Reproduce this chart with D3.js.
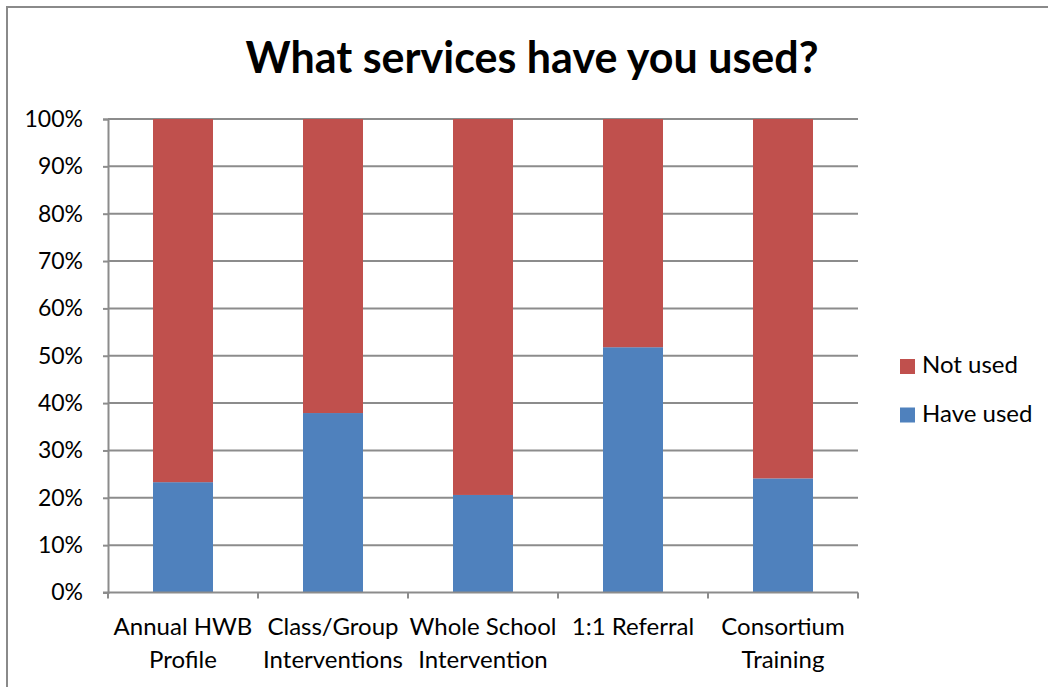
<!DOCTYPE html>
<html>
<head>
<meta charset="utf-8">
<script src="https://cdn.jsdelivr.net/npm/d3@7"></script>
<style>
body { margin: 0; background: #fff; }
svg { display: block; font-family: Lato, "Open Sans", sans-serif; }
</style>
</head>
<body>
<div id="canvas"></div>
<script>
// DATA -----------------------------------------------------
var categories = [
["Annual HWB", "Profile"],
["Class/Group", "Interventions"],
["Whole School", "Intervention"],
["1:1 Referral"],
["Consortium", "Training"]
];
var have_used = [0.233, 0.379, 0.206, 0.518, 0.241];
var not_used = have_used.map((v) => 1 - v);
var y_ticks = [0, 0.1, 0.2, 0.3, 0.4, 0.5, 0.6, 0.7, 0.8, 0.9, 1];
var series_names = ["Not used", "Have used"];

var colors = { "Have used": "#4F81BD", "Not used": "#C0504D" };
var grid_color = "#8c8c8c";

// STRUCTURE ------------------------------------------------
var W = 1048, H = 687;
var plot = { left: 108, right: 858, top: 119, bottom: 592.5 };

var svg = d3.select("#canvas").append("svg")
.attr("width", W)
.attr("height", H);

// chart border (only top and left visible in frame)
svg.append("rect")
.attr("x", 7).attr("y", 7)
.attr("width", 1200).attr("height", 900)
.attr("fill", "#fff")
.attr("stroke", "#8a8a8a")
.attr("stroke-width", 2);

// title
svg.append("text")
.attr("x", 532)
.attr("y", 73)
.attr("text-anchor", "middle")
.style("font-size", "43px")
.style("font-weight", "bold")
.text("What services have you used?");

// scales
var keys = categories.map((c) => c.join(" "));
var xScale = d3.scaleBand()
.domain(keys)
.range([plot.left, plot.right])
.paddingInner(0.6)
.paddingOuter(0.3);

var yScale = d3.scaleLinear()
.domain([0, 1])
.range([plot.bottom, plot.top]);

// grid lines
svg.append("g")
.selectAll("line")
.data(y_ticks.slice(1))
.enter().append("line")
.attr("x1", plot.left).attr("x2", plot.right)
.attr("y1", (d) => yScale(d)).attr("y2", (d) => yScale(d))
.attr("stroke", grid_color)
.attr("stroke-width", 2);

// stacked bars
var rows = keys.map((k, i) => ({ key: k, "Have used": have_used[i], "Not used": not_used[i] }));
var stack = d3.stack().keys(["Have used", "Not used"])(rows);

svg.append("g")
.selectAll("g")
.data(stack)
.enter().append("g")
.attr("fill", (s) => colors[s.key])
.selectAll("rect")
.data((s) => s)
.enter().append("rect")
.attr("x", (d) => xScale(d.data.key))
.attr("y", (d) => yScale(d[1]))
.attr("height", (d) => yScale(d[0]) - yScale(d[1]))
.attr("width", xScale.bandwidth());

// y axis
var yAxis = svg.append("g")
.attr("transform", `translate(${plot.left},0)`)
.call(d3.axisLeft(yScale)
.tickValues(y_ticks)
.tickFormat(d3.format(".0%"))
.tickSize(5)
.tickPadding(20));
yAxis.select(".domain").attr("stroke", grid_color).attr("stroke-width", 2);
yAxis.selectAll(".tick line").attr("stroke", grid_color).attr("stroke-width", 2);
yAxis.selectAll("text")
.attr("fill", "#000")
.style("font-size", "23px")
.style("font-family", "Lato, sans-serif");

// x axis line and ticks at band boundaries
svg.append("line")
.attr("x1", plot.left - 5).attr("x2", plot.right)
.attr("y1", plot.bottom).attr("y2", plot.bottom)
.attr("stroke", grid_color).attr("stroke-width", 2);

var step = xScale.step();
var bounds = d3.range(keys.length + 1).map((i) => plot.left + i * step);
svg.append("g")
.selectAll("line")
.data(bounds)
.enter().append("line")
.attr("x1", (d) => d).attr("x2", (d) => d)
.attr("y1", plot.bottom).attr("y2", plot.bottom + 6)
.attr("stroke", grid_color).attr("stroke-width", 2);

// category labels
var cat_labels = svg.append("g")
.selectAll("text")
.data(categories)
.enter().append("text")
.attr("x", (c) => xScale(c.join(" ")) + xScale.bandwidth() / 2)
.attr("y", 635)
.attr("text-anchor", "middle")
.style("font-size", "24px");
cat_labels.selectAll("tspan")
.data((c) => c)
.enter().append("tspan")
.attr("x", function () { return d3.select(this.parentNode).attr("x"); })
.attr("dy", (d, i) => i === 0 ? 0 : 33)
.text((d) => d);

// legend
var legend = svg.append("g")
.selectAll("g")
.data(series_names)
.enter().append("g")
.attr("transform", (d, i) => `translate(900, ${359 + i * 48.5})`);
legend.append("rect")
.attr("width", 15).attr("height", 15)
.attr("fill", (d) => colors[d]);
legend.append("text")
.attr("x", 22)
.attr("y", 14)
.style("font-size", "24px")
.text((d) => d);
</script>
</body>
</html>
